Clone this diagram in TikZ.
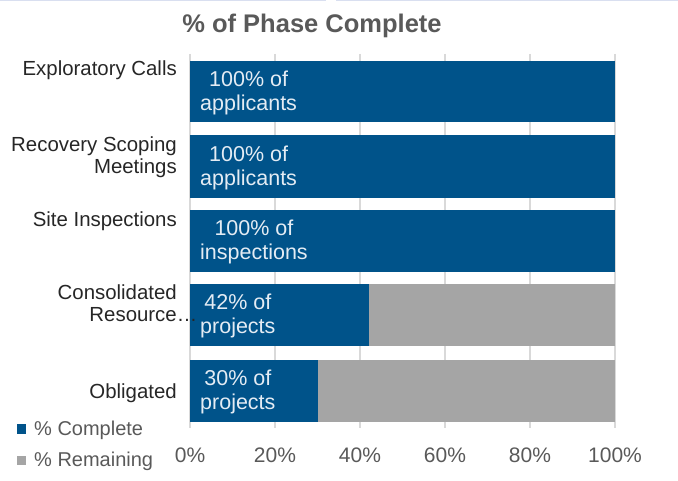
\documentclass[tikz,border=0pt]{standalone}
\usepackage{fontspec}
\setmainfont{Liberation Sans}
\usepackage{tikz}

\definecolor{doneblue}{RGB}{0,83,138}
\definecolor{restgray}{RGB}{165,165,165}
\definecolor{gridgray}{RGB}{217,217,217}
\definecolor{textgray}{RGB}{89,89,89}
\definecolor{catblack}{RGB}{38,38,38}
\definecolor{barlabel}{RGB}{228,236,244}
\definecolor{topline}{RGB}{217,223,240}

\tikzset{
	catlabel/.style={anchor=east, align=right, inner sep=0pt, text=catblack,
		font=\fontsize{20.4}{22}\selectfont},
	barlabelnode/.style={anchor=west, align=center, inner sep=0pt, text=barlabel,
		font=\fontsize{21.5}{24}\selectfont},
	ticklabel/.style={inner sep=0pt, text=textgray, font=\fontsize{21}{24}\selectfont},
	legendtext/.style={anchor=west, inner sep=0pt, text=textgray,
		font=\fontsize{20}{22}\selectfont},
	gridline/.style={draw=gridgray, line width=1.2pt}
}

\begin{document}
\begin{tikzpicture}[x=1pt, y=-1pt]
	\useasboundingbox (0,0) rectangle (678,481);

	% top rule
	\fill [topline] (0,0) rectangle (326,1.5);
	\fill [topline] (336,0) rectangle (678,1.5);

	% title
	\node [text=textgray, inner sep=0pt, font=\fontsize{25.5}{28}\selectfont\bfseries] (title) at (312, 26) {\% of Phase Complete};

	% grid
	\draw [gridline] (190,54) -- (190,428);
	\draw [gridline] (275,54) -- (275,428);
	\draw [gridline] (360,54) -- (360,428);
	\draw [gridline] (445,54) -- (445,428);
	\draw [gridline] (530,54) -- (530,428);
	\draw [gridline] (615,54) -- (615,428);

	% bars
	\fill [doneblue] (190,61) rectangle (615,122);
	\fill [doneblue] (190,135) rectangle (615,198);
	\fill [doneblue] (190,210) rectangle (615,272);
	\fill [doneblue] (190,284) rectangle (368.5,346);
	\fill [restgray] (368.5,284) rectangle (615,346);
	\fill [doneblue] (190,360) rectangle (317.5,422);
	\fill [restgray] (317.5,360) rectangle (615,422);

	% bar labels
	\node [barlabelnode] (calls) at (200, 92.5) {100\% of\\applicants};
	\node [barlabelnode] (meetings) at (200, 167.5) {100\% of\\applicants};
	\node [barlabelnode] (inspections) at (200, 242) {100\% of\\inspections};
	\node [barlabelnode] (consolidated) at (200, 316) {42\% of\\projects};
	\node [barlabelnode] (obligated) at (200, 392) {30\% of\\projects};

	% categories
	\node [catlabel] (catcalls) at (177, 70.5) {Exploratory Calls};
	\node [catlabel] (catmeetings) at (177, 157) {Recovery Scoping\\Meetings};
	\node [catlabel] (catinspections) at (177, 221) {Site Inspections};
	\node [catlabel] (catconsolidated) at (177, 303.5) {Consolidated\\Resource\rlap{\ldots}};
	\node [catlabel] (catobligated) at (177, 393) {Obligated};

	% axis
	\node [ticklabel] (tick0) at (190, 455) {0\%};
	\node [ticklabel] (tick20) at (275, 455) {20\%};
	\node [ticklabel] (tick40) at (360, 455) {40\%};
	\node [ticklabel] (tick60) at (445, 455) {60\%};
	\node [ticklabel] (tick80) at (530, 455) {80\%};
	\node [ticklabel] (tick100) at (615, 455) {100\%};

	% legend
	\fill [doneblue] (17,424) rectangle (26,434);
	\node [legendtext] (legdone) at (34, 430) {\% Complete};
	\fill [restgray] (17,456) rectangle (26,465);
	\node [legendtext] (legrest) at (34, 461) {\% Remaining};
\end{tikzpicture}
\end{document}
